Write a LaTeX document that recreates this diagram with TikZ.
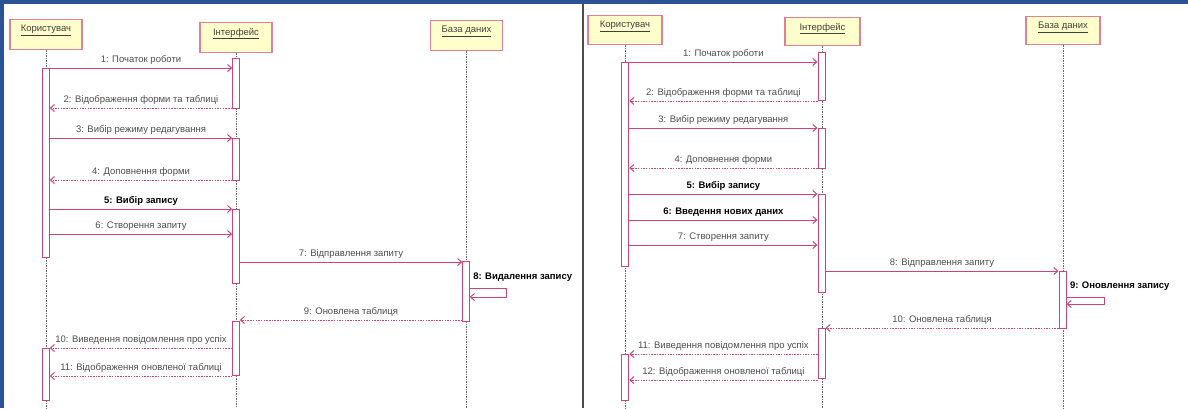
\documentclass[tikz,border=0pt]{standalone}
\usepackage{fontspec}
\setmainfont{Liberation Sans}
\usetikzlibrary{arrows.meta}
\definecolor{trait}{RGB}{204,68,119}
\definecolor{bord}{RGB}{224,128,150}
\definecolor{fond}{RGB}{255,255,204}
\definecolor{cadre}{RGB}{44,82,150}
\tikzset{
  objet/.style={draw=bord, line width=1.4pt, fill=fond, minimum width=72pt, minimum height=30pt, anchor=north, inner sep=0pt},
  nom/.style={anchor=north, yshift=-6pt, inner sep=0pt, font=\fontsize{9.5}{10}\selectfont, text=black!75},
  activ/.style={draw=trait, line width=1pt, fill=white, minimum width=6.5pt, anchor=north, inner sep=0pt},
  vie/.style={gray!80!black, dash pattern=on 1.5pt off 1pt, line width=0.7pt},
  appel/.style={draw=trait, line width=1pt, -{Straight Barb[length=4pt,width=7pt]}},
  retour/.style={appel, dash pattern=on 1.5pt off 1.2pt},
  texte/.style={above=3pt, inner sep=0pt, font=\fontsize{9.5}{10}\selectfont, text=black!70},
  gras/.style={texte, font=\fontsize{9.5}{10}\selectfont\bfseries, text=black}
}
\begin{document}
\begin{tikzpicture}[x=1pt, y=-1pt]
    \useasboundingbox (0,0) rectangle (1188,408);
    % cadre et séparation
    \fill[cadre] (0,0) rectangle (1188,4);
    \fill[cadre] (0,0) rectangle (4,408);
    \draw[gray!60!black, line width=1.5pt] (583,4) -- (583,408);

    % Premier diagramme : objets et lignes de vie
    \node[objet, label={[nom]north:\underline{Користувач}}] (user) at (46,19) {};
    \node[objet, label={[nom]north:\underline{Інтерфейс}}] (inter) at (236,22) {};
    \node[objet, label={[nom]north:\underline{База даних}}] (base) at (466.5,20) {};
    \draw[vie] (user.south) -- (user.south |- 0,408);
    \draw[vie] (inter.south) -- (inter.south |- 0,408);
    \draw[vie] (base.south) -- (base.south |- 0,408);

    % activations
    \node[activ, minimum height=189pt] (u1) at (46,68) {};
    \node[activ, minimum height=52pt] (u2) at (46,348) {};
    \node[activ, minimum height=50pt] (i1) at (236,58) {};
    \node[activ, minimum height=42pt] (i2) at (236,138) {};
    \node[activ, minimum height=74pt] (i3) at (236,209) {};
    \node[activ, minimum height=54pt] (i4) at (236,321) {};
    \node[activ, minimum height=60pt] (d1) at (466,261) {};

    % messages
    \draw[appel] (u1.east |- 0,68) -- (i1.west |- 0,68) node[texte, midway]{1: Початок роботи};
    \draw[retour] (i1.west |- 0,108) -- (u1.east |- 0,108) node[texte, midway]{2: Відображення форми та таблиці};
    \draw[appel] (u1.east |- 0,138) -- (i2.west |- 0,138) node[texte, midway]{3: Вибір режиму редагування};
    \draw[retour] (i2.west |- 0,180) -- (u1.east |- 0,180) node[texte, midway]{4: Доповнення форми};
    \draw[appel] (u1.east |- 0,209) -- (i3.west |- 0,209) node[gras, midway]{5: Вибір запису};
    \draw[appel] (u1.east |- 0,234) -- (i3.west |- 0,234) node[texte, midway]{6: Створення запиту};
    \draw[appel] (i3.east |- 0,262) -- (d1.west |- 0,262) node[texte, midway]{7: Відправлення запиту};
    \draw[appel] (d1.east |- 0,288) node[gras, above=0pt, xshift=3pt, yshift=3pt, anchor=south west]{8: Видалення запису}
        -- ++(37,0) -- ++(0,9) -- (d1.east |- 0,297);
    \draw[retour] (d1.west |- 0,320) -- (i4.east |- 0,320) node[texte, midway]{9: Оновлена таблиця};
    \draw[retour] (i4.west |- 0,348) -- (u2.east |- 0,348) node[texte, midway]{10: Виведення повідомлення про успіх};
    \draw[retour] (i4.west |- 0,376) -- (u2.east |- 0,376) node[texte, midway]{11: Відображення оновленої таблиці};

    % Deuxième diagramme : objets et lignes de vie
    \node[objet, minimum width=74pt, minimum height=29pt, label={[nom]north:\underline{Користувач}}] (userb) at (625,15) {};
    \node[objet, minimum width=75pt, minimum height=28pt, label={[nom]north:\underline{Інтерфейс}}] (interb) at (822.5,17) {};
    \node[objet, minimum width=74pt, minimum height=28pt, label={[nom]north:\underline{База даних}}] (baseb) at (1063,16) {};
    \draw[vie] (userb.south) -- (userb.south |- 0,408);
    \draw[vie] (interb.south) -- (interb.south |- 0,408);
    \draw[vie] (baseb.south) -- (baseb.south |- 0,408);

    % activations
    \node[activ, minimum width=7.5pt, minimum height=204pt] (ub1) at (625,62) {};
    \node[activ, minimum width=7.5pt, minimum height=46pt] (ub2) at (625,354) {};
    \node[activ, minimum width=7pt, minimum height=48pt] (ib1) at (821.5,52) {};
    \node[activ, minimum width=7pt, minimum height=40pt] (ib2) at (821.5,128) {};
    \node[activ, minimum width=7pt, minimum height=98pt] (ib3) at (821.5,194) {};
    \node[activ, minimum width=7pt, minimum height=50pt] (ib4) at (821.5,328) {};
    \node[activ, minimum width=7pt, minimum height=57pt] (db1) at (1062.5,271) {};

    % messages
    \draw[appel] (ub1.east |- 0,62) -- (ib1.west |- 0,62) node[texte, midway]{1: Початок роботи};
    \draw[retour] (ib1.west |- 0,101) -- (ub1.east |- 0,101) node[texte, midway]{2: Відображення форми та таблиці};
    \draw[appel] (ub1.east |- 0,128) -- (ib2.west |- 0,128) node[texte, midway]{3: Вибір режиму редагування};
    \draw[retour] (ib2.west |- 0,168) -- (ub1.east |- 0,168) node[texte, midway]{4: Доповнення форми};
    \draw[appel] (ub1.east |- 0,194) -- (ib3.west |- 0,194) node[gras, midway]{5: Вибір запису};
    \draw[appel] (ub1.east |- 0,220) -- (ib3.west |- 0,220) node[gras, midway]{6: Введення нових даних};
    \draw[appel] (ub1.east |- 0,245) -- (ib3.west |- 0,245) node[texte, midway]{7: Створення запиту};
    \draw[appel] (ib3.east |- 0,271) -- (db1.west |- 0,271) node[texte, midway]{8: Відправлення запиту};
    \draw[appel] (db1.east |- 0,297) node[gras, above=0pt, xshift=3pt, yshift=3pt, anchor=south west]{9: Оновлення запису}
        -- ++(38,0) -- ++(0,7) -- (db1.east |- 0,304);
    \draw[retour] (db1.west |- 0,328) -- (ib4.east |- 0,328) node[texte, midway]{10: Оновлена таблиця};
    \draw[retour] (ib4.west |- 0,354) -- (ub2.east |- 0,354) node[texte, midway]{11: Виведення повідомлення про успіх};
    \draw[retour] (ib4.west |- 0,380) -- (ub2.east |- 0,380) node[texte, midway]{12: Відображення оновленої таблиці};
\end{tikzpicture}
\end{document}
